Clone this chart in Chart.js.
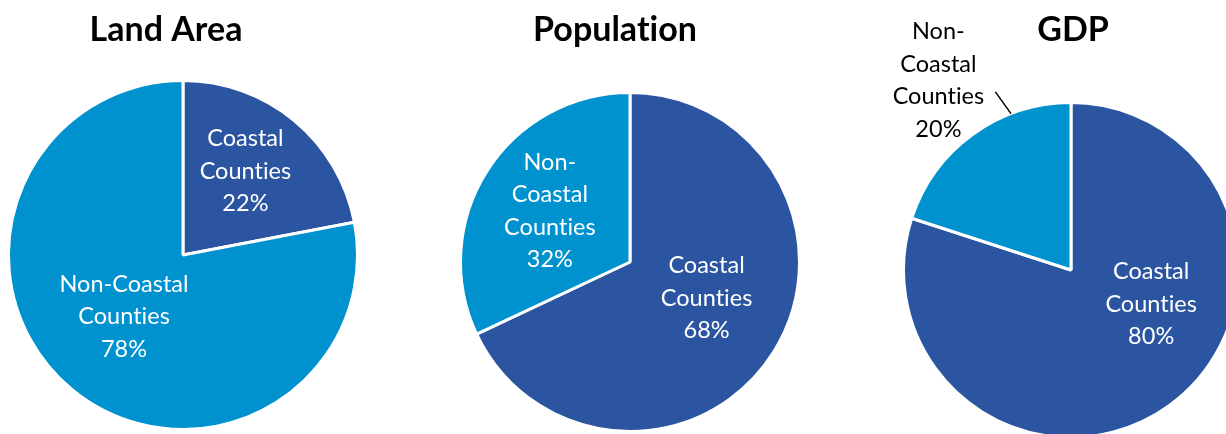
<!DOCTYPE html>
<html>
<head>
<meta charset="utf-8">
<script src="https://cdn.jsdelivr.net/npm/chart.js@4"></script>
<style>
  html, body { margin: 0; padding: 0; background: #fff; }
  body { width: 1226px; height: 434px; overflow: hidden; position: relative; }
  canvas { position: absolute; left: 0; top: 0; }
</style>
</head>
<body>
<canvas id="land" width="1260" height="440"></canvas>
<canvas id="pop" width="1260" height="440"></canvas>
<canvas id="gdp" width="1260" height="440"></canvas>
<script>
// data
var categories = ['Coastal Counties', 'Non-Coastal Counties'];
var landArea = [22, 78];
var population = [68, 32];
var gdp = [80, 20];

var darkBlue = '#2B55A0';
var lightBlue = '#0091CF';
var labelFont = '23.5px Lato, "Open Sans", sans-serif';
var titleFont = 'bold 34px Lato, "Open Sans", sans-serif';

// split a label into lines that fit inside maxWidth (breaks at spaces and hyphens)
function wrapText(ctx, text, maxWidth) {
  var parts = text.match(/[^\s-]+-?/g);
  var lines = [];
  var cur = '';
  parts.forEach(function (p) {
    var sep = (cur === '' || cur.slice(-1) === '-') ? '' : ' ';
    var test = cur + sep + p;
    if (cur !== '' && ctx.measureText(test).width > maxWidth) {
      lines.push(cur);
      cur = p;
    } else {
      cur = test;
    }
  });
  if (cur) lines.push(cur);
  return lines;
}

// draws the chart title and the slice labels
var pieLabels = {
  id: 'pieLabels',
  afterDatasetsDraw: function (chart, args, opts) {
    var ctx = chart.ctx;
    var data = chart.data.datasets[0].data;
    var total = data.reduce(function (a, b) { return a + b; }, 0);
    ctx.save();
    ctx.textAlign = 'center';
    ctx.textBaseline = 'middle';
    // tiny spacing keeps Lato from joining "ti"
    ctx.letterSpacing = '0.01px';

    ctx.font = titleFont;
    ctx.fillStyle = '#000';
    ctx.fillText(opts.title, opts.titleX, 30);

    ctx.font = labelFont;
    chart.getDatasetMeta(0).data.forEach(function (arc, i) {
      var cfg = opts.labels[i];
      var p = arc.getProps(['x', 'y', 'startAngle', 'endAngle', 'outerRadius'], true);
      var mid = (p.startAngle + p.endAngle) / 2 + cfg.shift * Math.PI / 180;
      var r = p.outerRadius;
      var cx = p.x + Math.cos(mid) * r * cfg.dist;
      var cy = p.y + Math.sin(mid) * r * cfg.dist;

      var pct = Math.round(data[i] / total * 100) + '%';
      var lines = wrapText(ctx, chart.data.labels[i], cfg.wrap);
      lines.push(pct);

      var lh = 32.5;
      var y0 = cy - (lines.length - 1) * lh / 2;
      ctx.fillStyle = cfg.color;
      lines.forEach(function (t, k) {
        ctx.fillText(t, cx, y0 + k * lh);
      });

      if (cfg.leader) {
        var a1 = mid + cfg.leader[1] * Math.PI / 180;
        var a2 = mid + cfg.leader[3] * Math.PI / 180;
        ctx.strokeStyle = '#000';
        ctx.lineWidth = 1.5;
        ctx.beginPath();
        ctx.moveTo(p.x + Math.cos(a1) * r * cfg.leader[0], p.y + Math.sin(a1) * r * cfg.leader[0]);
        ctx.lineTo(p.x + Math.cos(a2) * r * cfg.leader[2], p.y + Math.sin(a2) * r * cfg.leader[2]);
        ctx.stroke();
      }
    });
    ctx.restore();
  }
};

function makePie(id, values, pad, pluginOpts) {
  return new Chart(document.getElementById(id), {
    type: 'pie',
    data: {
      labels: categories,
      datasets: [{
        data: values,
        backgroundColor: [darkBlue, lightBlue],
        borderColor: '#fff',
        borderWidth: 3
      }]
    },
    options: {
      responsive: false,
      animation: false,
      layout: { padding: pad },
      plugins: {
        legend: { display: false },
        tooltip: { enabled: false },
        pieLabels: pluginOpts
      }
    },
    plugins: [pieLabels]
  });
}

makePie('land', landArea, { left: 7, top: 79, right: 1260 - 359, bottom: 440 - 431 }, {
  title: 'Land Area', titleX: 166,
  labels: [
    { dist: 0.60, shift: -3, wrap: 115, color: '#fff' },
    { dist: 0.49, shift: 4, wrap: 160, color: '#fff' }
  ]
});

makePie('pop', population, { left: 459, top: 91, right: 1260 - 801, bottom: 440 - 433 }, {
  title: 'Population', titleX: 615,
  labels: [
    { dist: 0.50, shift: -7, wrap: 115, color: '#fff' },
    { dist: 0.56, shift: 0, wrap: 95, color: '#fff' }
  ]
});

makePie('gdp', gdp, { left: 902, top: 101, right: 1260 - 1240, bottom: 440 - 439 }, {
  title: 'GDP', titleX: 1073,
  labels: [
    { dist: 0.52, shift: -31, wrap: 115, color: '#fff' },
    { dist: 1.38, shift: 1, wrap: 95, color: '#000', leader: [1.0, 14, 1.155, 12] }
  ]
});
</script>
</body>
</html>
